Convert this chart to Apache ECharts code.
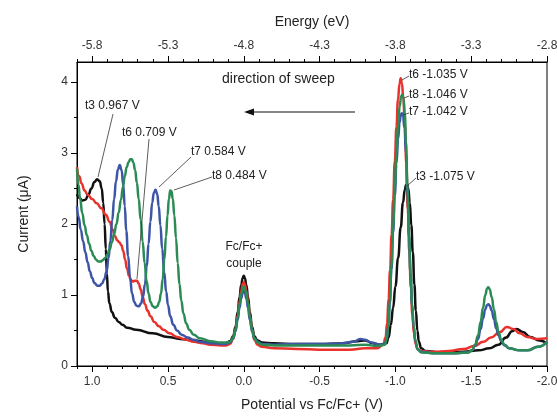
<!DOCTYPE html>
<html>
<head>
<meta charset="utf-8">
<script src="https://cdn.jsdelivr.net/npm/echarts@6/dist/echarts.min.js"></script>
<style>
html,body{margin:0;padding:0;background:#fff;}
#c{width:557px;height:417px;}
</style>
</head>
<body>
<div id="c"></div>
<script>
// ---- data: [potential vs Fc/Fc+ (V), current (uA)] ----
const t3 = [[1.10,2.42],[1.085,2.37],[1.065,2.33],[1.045,2.34],[1.025,2.41],[1.005,2.5],[0.985,2.59],[0.967,2.63],[0.95,2.6],[0.937,2.5],[0.927,2.3],[0.918,2.0],[0.91,1.65],[0.903,1.3],[0.896,1.05],[0.886,0.88],[0.87,0.76],[0.85,0.68],[0.825,0.62],[0.8,0.58],[0.77,0.54],[0.71,0.51],[0.6,0.46],[0.5,0.41],[0.42,0.38],[0.33,0.36],[0.22,0.33],[0.15,0.32],[0.12,0.32],[0.09,0.35],[0.07,0.42],[0.055,0.55],[0.04,0.76],[0.028,0.97],[0.017,1.14],[0.007,1.24],[0,1.27],[-0.007,1.24],[-0.017,1.14],[-0.028,0.97],[-0.04,0.76],[-0.055,0.55],[-0.07,0.42],[-0.09,0.36],[-0.12,0.33],[-0.2,0.32],[-0.35,0.31],[-0.5,0.31],[-0.65,0.32],[-0.75,0.35],[-0.8,0.36],[-0.85,0.32],[-0.9,0.3],[-0.94,0.32],[-0.955,0.4],[-0.97,0.58],[-0.985,0.82],[-1.0,1.12],[-1.018,1.52],[-1.035,1.95],[-1.05,2.3],[-1.062,2.48],[-1.07,2.55],[-1.077,2.56],[-1.085,2.5],[-1.095,2.3],[-1.105,1.98],[-1.115,1.6],[-1.125,1.15],[-1.135,0.78],[-1.145,0.5],[-1.155,0.34],[-1.17,0.25],[-1.2,0.21],[-1.3,0.19],[-1.45,0.2],[-1.55,0.22],[-1.62,0.25],[-1.68,0.3],[-1.73,0.4],[-1.77,0.49],[-1.8,0.52],[-1.84,0.48],[-1.89,0.41],[-1.95,0.36],[-2.0,0.32]];
const t6 = [[1.10,2.8],[1.085,2.67],[1.07,2.57],[1.05,2.47],[1.03,2.41],[1.0,2.35],[0.97,2.29],[0.94,2.22],[0.91,2.13],[0.885,2.03],[0.865,1.92],[0.85,1.83],[0.835,1.77],[0.82,1.74],[0.807,1.7],[0.795,1.62],[0.783,1.5],[0.77,1.37],[0.757,1.27],[0.745,1.21],[0.732,1.19],[0.718,1.2],[0.705,1.2],[0.693,1.16],[0.68,1.08],[0.667,0.97],[0.652,0.87],[0.635,0.78],[0.615,0.7],[0.59,0.62],[0.56,0.56],[0.53,0.51],[0.49,0.46],[0.44,0.41],[0.38,0.37],[0.33,0.34],[0.27,0.32],[0.22,0.3],[0.15,0.29],[0.12,0.29],[0.09,0.31],[0.07,0.38],[0.055,0.51],[0.04,0.71],[0.028,0.9],[0.017,1.06],[0.007,1.15],[0,1.18],[-0.007,1.15],[-0.017,1.06],[-0.028,0.9],[-0.04,0.71],[-0.055,0.51],[-0.07,0.37],[-0.09,0.3],[-0.12,0.27],[-0.2,0.25],[-0.35,0.24],[-0.5,0.23],[-0.7,0.23],[-0.8,0.25],[-0.88,0.25],[-0.92,0.3],[-0.935,0.4],[-0.945,0.6],[-0.955,0.95],[-0.965,1.35],[-0.975,1.85],[-0.985,2.34],[-0.996,2.88],[-1.007,3.37],[-1.017,3.75],[-1.027,3.97],[-1.035,4.05],[-1.043,3.98],[-1.052,3.78],[-1.062,3.42],[-1.072,2.85],[-1.082,2.2],[-1.092,1.6],[-1.102,1.1],[-1.112,0.72],[-1.122,0.46],[-1.135,0.3],[-1.15,0.23],[-1.17,0.21],[-1.25,0.2],[-1.35,0.21],[-1.45,0.24],[-1.52,0.28],[-1.58,0.34],[-1.63,0.4],[-1.69,0.48],[-1.735,0.55],[-1.78,0.52],[-1.82,0.46],[-1.87,0.41],[-1.93,0.38],[-2.0,0.39]];
const t7 = [[1.10,2.25],[1.09,2.1],[1.075,1.92],[1.06,1.76],[1.045,1.6],[1.03,1.46],[1.015,1.33],[1.0,1.24],[0.985,1.17],[0.965,1.13],[0.95,1.13],[0.935,1.16],[0.92,1.22],[0.905,1.33],[0.892,1.52],[0.88,1.76],[0.868,2.05],[0.855,2.35],[0.843,2.6],[0.83,2.77],[0.818,2.83],[0.806,2.76],[0.795,2.55],[0.785,2.25],[0.775,1.9],[0.763,1.55],[0.75,1.25],[0.737,1.02],[0.722,0.9],[0.708,0.85],[0.693,0.84],[0.678,0.88],[0.665,0.97],[0.652,1.15],[0.64,1.4],[0.628,1.72],[0.616,2.03],[0.604,2.3],[0.593,2.44],[0.582,2.48],[0.571,2.42],[0.561,2.25],[0.55,1.98],[0.538,1.65],[0.525,1.32],[0.512,1.05],[0.5,0.86],[0.485,0.7],[0.465,0.58],[0.44,0.5],[0.41,0.44],[0.37,0.4],[0.33,0.37],[0.29,0.34],[0.22,0.32],[0.15,0.31],[0.12,0.31],[0.09,0.33],[0.07,0.39],[0.055,0.49],[0.04,0.65],[0.028,0.82],[0.017,0.95],[0.007,1.03],[0,1.06],[-0.007,1.03],[-0.017,0.95],[-0.028,0.82],[-0.04,0.65],[-0.055,0.49],[-0.07,0.39],[-0.09,0.34],[-0.12,0.31],[-0.2,0.3],[-0.35,0.31],[-0.5,0.31],[-0.65,0.32],[-0.72,0.34],[-0.77,0.38],[-0.8,0.37],[-0.84,0.33],[-0.9,0.3],[-0.93,0.31],[-0.943,0.38],[-0.953,0.55],[-0.963,0.88],[-0.974,1.36],[-0.985,1.88],[-0.996,2.4],[-1.007,2.85],[-1.018,3.2],[-1.028,3.43],[-1.036,3.54],[-1.042,3.56],[-1.05,3.52],[-1.06,3.35],[-1.07,3.0],[-1.08,2.42],[-1.09,1.82],[-1.1,1.28],[-1.11,0.86],[-1.12,0.56],[-1.132,0.35],[-1.145,0.24],[-1.17,0.2],[-1.25,0.18],[-1.4,0.18],[-1.48,0.19],[-1.505,0.22],[-1.525,0.28],[-1.545,0.38],[-1.562,0.52],[-1.578,0.67],[-1.593,0.8],[-1.605,0.86],[-1.613,0.87],[-1.622,0.85],[-1.635,0.78],[-1.65,0.66],[-1.665,0.53],[-1.68,0.43],[-1.698,0.35],[-1.72,0.29],[-1.75,0.25],[-1.82,0.22],[-1.87,0.22],[-1.94,0.27],[-2.0,0.34]];
const t8 = [[1.10,2.78],[1.09,2.55],[1.08,2.36],[1.065,2.15],[1.05,1.98],[1.035,1.84],[1.02,1.72],[1.005,1.62],[0.99,1.55],[0.975,1.5],[0.96,1.47],[0.945,1.47],[0.93,1.49],[0.915,1.52],[0.9,1.57],[0.885,1.64],[0.87,1.74],[0.855,1.86],[0.84,2.0],[0.825,2.16],[0.81,2.34],[0.797,2.52],[0.785,2.67],[0.772,2.8],[0.76,2.87],[0.748,2.91],[0.738,2.91],[0.728,2.86],[0.717,2.76],[0.705,2.58],[0.693,2.35],[0.68,2.06],[0.667,1.75],[0.654,1.45],[0.641,1.2],[0.628,1.02],[0.615,0.9],[0.6,0.84],[0.585,0.82],[0.57,0.84],[0.558,0.9],[0.546,1.02],[0.535,1.22],[0.524,1.5],[0.513,1.82],[0.503,2.12],[0.494,2.35],[0.485,2.47],[0.477,2.46],[0.468,2.35],[0.458,2.12],[0.447,1.8],[0.436,1.45],[0.424,1.15],[0.412,0.92],[0.398,0.74],[0.38,0.6],[0.36,0.51],[0.33,0.44],[0.29,0.39],[0.22,0.35],[0.15,0.33],[0.12,0.33],[0.09,0.34],[0.07,0.4],[0.055,0.51],[0.04,0.69],[0.028,0.87],[0.017,1.01],[0.007,1.09],[0,1.12],[-0.007,1.09],[-0.017,1.01],[-0.028,0.87],[-0.04,0.69],[-0.055,0.51],[-0.07,0.39],[-0.09,0.33],[-0.12,0.3],[-0.2,0.29],[-0.35,0.29],[-0.5,0.29],[-0.7,0.29],[-0.8,0.3],[-0.88,0.28],[-0.93,0.3],[-0.943,0.38],[-0.953,0.55],[-0.963,0.9],[-0.974,1.4],[-0.985,1.95],[-0.996,2.5],[-1.007,3.0],[-1.018,3.38],[-1.028,3.65],[-1.038,3.8],[-1.046,3.82],[-1.054,3.76],[-1.062,3.55],[-1.07,3.15],[-1.08,2.5],[-1.09,1.85],[-1.1,1.3],[-1.11,0.88],[-1.12,0.57],[-1.132,0.36],[-1.145,0.24],[-1.17,0.19],[-1.25,0.18],[-1.4,0.18],[-1.48,0.19],[-1.505,0.22],[-1.525,0.3],[-1.545,0.43],[-1.562,0.62],[-1.578,0.82],[-1.593,1.0],[-1.605,1.09],[-1.613,1.11],[-1.622,1.08],[-1.635,0.97],[-1.65,0.8],[-1.665,0.62],[-1.68,0.48],[-1.698,0.37],[-1.72,0.3],[-1.75,0.25],[-1.82,0.22],[-1.87,0.22],[-1.94,0.27],[-2.0,0.34]];

// ---- ticks ----
const xMajorTicks = [1.0, 0.5, 0.0, -0.5, -1.0, -1.5, -2.0];
const xMinorTicks = [1.1, 0.9, 0.8, 0.7, 0.6, 0.4, 0.3, 0.2, 0.1, -0.1, -0.2, -0.3, -0.4, -0.6, -0.7, -0.8, -0.9, -1.1, -1.2, -1.3, -1.4, -1.6, -1.7, -1.8, -1.9];
const energyOffset = -4.8; // E = -4.8 - V
const yMajorTicks = [0, 1, 2, 3, 4];
const yMinorTicks = [0.5, 1.5, 2.5, 3.5];

const FONT = '"Liberation Sans", Arial, sans-serif';
const TXT = '#222';
const colors = {t3:'#111111', t6:'#e8322b', t7:'#3d55a6', t8:'#2a8b55'};

function lineSeries(name, data, color, z){
  return {name, type:'line', data, xAxisIndex:0, yAxisIndex:0, showSymbol:false, smooth:0.5, smoothMonotone:'x',
    lineStyle:{color, width:2.5}, itemStyle:{color}, z};
}
const axisLineStyle = {show:true, onZero:false, lineStyle:{color:'#000', width:1}};
const hiddenLine = {show:false, onZero:false};

const chart = echarts.init(document.getElementById('c'), null, {renderer:'canvas'});
const option = {
  animation:false,
  backgroundColor:'#fff',
  grid:{left:77, right:10, top:62, bottom:51, show:true, borderColor:'#000', borderWidth:1, backgroundColor:'transparent', outerBoundsMode:'none', containLabel:false},
  xAxis:[
    {type:'value', position:'bottom', min:-2.0, max:1.1, interval:0.5, inverse:true,
     axisLine:axisLineStyle, splitLine:{show:false},
     axisTick:{show:true, inside:false, length:6, lineStyle:{color:'#000'}, customValues:xMajorTicks},
     axisLabel:{customValues:xMajorTicks, formatter:v=>v.toFixed(1), margin:10, fontSize:12, color:'#333', fontFamily:FONT},
     name:'Potential vs Fc/Fc+ (V)', nameLocation:'middle', nameGap:32, nameTextStyle:{fontSize:14, color:TXT, fontFamily:FONT}},
    {type:'value', position:'top', min:-2.0, max:1.1, interval:0.5, inverse:true,
     axisLine:axisLineStyle, splitLine:{show:false},
     axisTick:{show:true, inside:false, length:6, lineStyle:{color:'#000'}, customValues:xMajorTicks},
     axisLabel:{customValues:xMajorTicks, formatter:v=>(energyOffset - v).toFixed(1), margin:10, fontSize:12, color:'#333', fontFamily:FONT},
     name:'Energy (eV)', nameLocation:'middle', nameGap:33, nameTextStyle:{fontSize:14, color:TXT, fontFamily:FONT}},
    {type:'value', position:'bottom', offset:0, min:-2.0, max:1.1, interval:0.1, inverse:true,
     axisLine:hiddenLine, splitLine:{show:false}, axisLabel:{show:false},
     axisTick:{show:true, inside:false, length:3, lineStyle:{color:'#000'}, customValues:xMinorTicks}},
    {type:'value', position:'top', offset:0, min:-2.0, max:1.1, interval:0.1, inverse:true,
     axisLine:hiddenLine, splitLine:{show:false}, axisLabel:{show:false},
     axisTick:{show:true, inside:false, length:3, lineStyle:{color:'#000'}, customValues:xMinorTicks}}
  ],
  yAxis:[
    {type:'value', position:'left', min:0, max:4.28, interval:1,
     axisLine:axisLineStyle, splitLine:{show:false},
     axisTick:{show:true, inside:false, length:6, lineStyle:{color:'#000'}, customValues:yMajorTicks},
     axisLabel:{customValues:yMajorTicks, formatter:v=>String(v), margin:9, fontSize:12, color:'#333', fontFamily:FONT},
     name:'Current (μA)', nameLocation:'middle', nameGap:46, nameTextStyle:{fontSize:14, color:TXT, fontFamily:FONT}},
    {type:'value', position:'left', offset:0, min:0, max:4.28, interval:0.5,
     axisLine:hiddenLine, splitLine:{show:false}, axisLabel:{show:false},
     axisTick:{show:true, inside:false, length:3, lineStyle:{color:'#000'}, customValues:yMinorTicks}}
  ],
  series:[
    lineSeries('t3', t3, colors.t3, 2),
    lineSeries('t6', t6, colors.t6, 3),
    lineSeries('t7', t7, colors.t7, 4),
    lineSeries('t8', t8, colors.t8, 5)
  ]
};
chart.setOption(option);

// ---- annotations (pixel layout) ----
function txt(x, y, s, size, align){
  return {type:'text', x, y, z:100, style:{text:s, fill:TXT, font:(size||12)+'px '+FONT, align:align||'left', verticalAlign:'middle'}};
}
function seg(x1,y1,x2,y2){
  return {type:'line', z:100, shape:{x1,y1,x2,y2}, style:{stroke:'#333', lineWidth:0.8}};
}
const g = [
  txt(222, 79, 'direction of sweep', 14),
  {type:'line', z:100, shape:{x1:355,y1:112,x2:252,y2:112}, style:{stroke:'#111', lineWidth:1.2}},
  {type:'polygon', z:100, shape:{points:[[244,112],[254,108.5],[254,115.5]]}, style:{fill:'#111'}},
  txt(85, 106, 't3 0.967 V'), seg(113,114,98,177),
  txt(122, 133, 't6 0.709 V'), seg(149,139,137,279),
  txt(191, 152, 't7 0.584 V'), seg(191,157,159,187),
  txt(212, 176, 't8 0.484 V'), seg(212,177,174,190),
  txt(409, 75, 't6 -1.035 V'), seg(409,76,402,80),
  txt(409, 95, 't8 -1.046 V'), seg(409,96,404,98),
  txt(409, 112, 't7 -1.042 V'), seg(409,113,403,115),
  txt(416, 177, 't3 -1.075 V'), seg(416,178,407,186),
  txt(244, 247, 'Fc/Fc+', 12, 'center'),
  txt(244, 264, 'couple', 12, 'center')
];
chart.setOption({graphic:g});
</script>
</body>
</html>
